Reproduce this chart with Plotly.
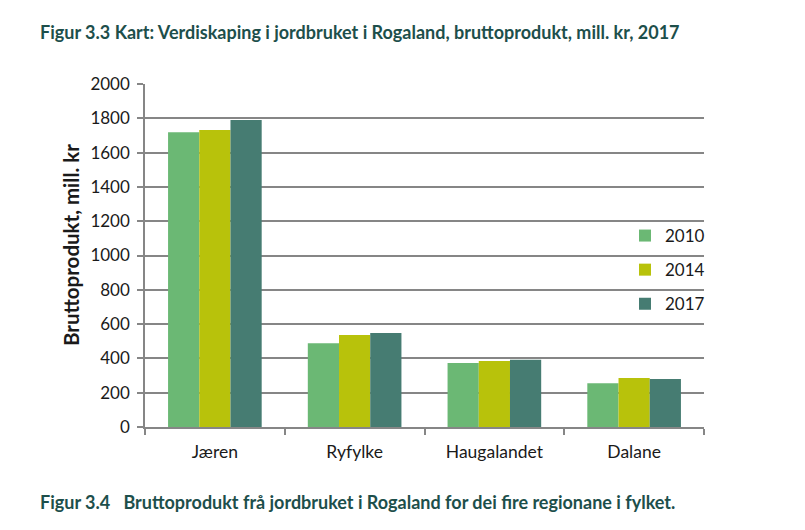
import plotly.graph_objects as go

regions = ["Jæren", "Ryfylke", "Haugalandet", "Dalane"]
years = ["2010", "2014", "2017"]
v2010 = [1718, 488, 373, 255]
v2014 = [1732, 536, 385, 286]
v2017 = [1790, 548, 392, 280]
colors = ["#6bb874", "#b8c20b", "#467c72"]

title_text = "Figur 3.3 Kart: Verdiskaping i jordbruket i Rogaland, bruttoprodukt, mill. kr, 2017"
caption_text = "Figur 3.4&nbsp;&nbsp;&nbsp;Bruttoprodukt frå jordbruket i Rogaland for dei fire regionane i fylket."
ytitle = "Bruttoprodukt, mill. kr"

FONT = "Lato"
W, H = 797, 522
L, R, T, B = 137, 101, 76, 103
PW, PH = W - L - R, H - T - B

fig = go.Figure()
for i, (yr, vals) in enumerate(zip(years, [v2010, v2014, v2017])):
    fig.add_trace(go.Bar(x=regions, y=vals, name=yr, marker_color=colors[i],
                         marker_line_width=0, legendgroup=yr))

fig.update_layout(
    width=W, height=H,
    margin=dict(l=L, r=R, t=T, b=B),
    paper_bgcolor="white", plot_bgcolor="white",
    font=dict(family=FONT, size=17, color="#1a1a1a"),
    bargap=0.33, bargroupgap=0,
    showlegend=True,
    legend=dict(x=1.0 + 6 / PW, xanchor="right", y=(H - B - 210) / PH, yanchor="top",
                font=dict(size=17, color="#1a1a1a"), tracegroupgap=9,
                itemwidth=30, bgcolor="rgba(0,0,0,0)"),
    xaxis=dict(showline=True, linecolor="#868686", linewidth=1.5,
               ticks="outside", tickson="boundaries", ticklen=6,
               tickcolor="#868686", tickwidth=1.5, ticklabelstandoff=8,
               tickfont=dict(size=17.5), showgrid=False),
    yaxis=dict(range=[0, 2000], dtick=200, showgrid=True, gridcolor="#868686",
               gridwidth=1.5, showline=True, linecolor="#868686", linewidth=1.5,
               ticks="outside", ticklen=6, tickcolor="#868686", tickwidth=1.5,
               ticklabelstandoff=4,
               tickfont=dict(size=17), zeroline=False),
    annotations=[
        dict(text="<b>" + title_text + "</b>", xref="paper", yref="paper",
             x=(30 - L) / PW, y=1 + (T - 24) / PH, xanchor="left", yanchor="middle",
             showarrow=False, font=dict(size=18, color="#1d4f4b", family=FONT)),
        dict(text="<b>" + caption_text + "</b>", xref="paper", yref="paper",
             x=(30 - L) / PW, y=-(494 - (H - B)) / PH, xanchor="left", yanchor="middle",
             showarrow=False, font=dict(size=18, color="#1d4f4b", family=FONT)),
        dict(text="<b>" + ytitle + "</b>", xref="paper", yref="paper",
             x=(63 - L) / PW, y=(H - B - 237) / PH, xanchor="center", yanchor="middle",
             textangle=-90, showarrow=False,
             font=dict(size=20.5, color="#1a1a1a", family=FONT)),
    ],
)

fig.write_html("out.html")
